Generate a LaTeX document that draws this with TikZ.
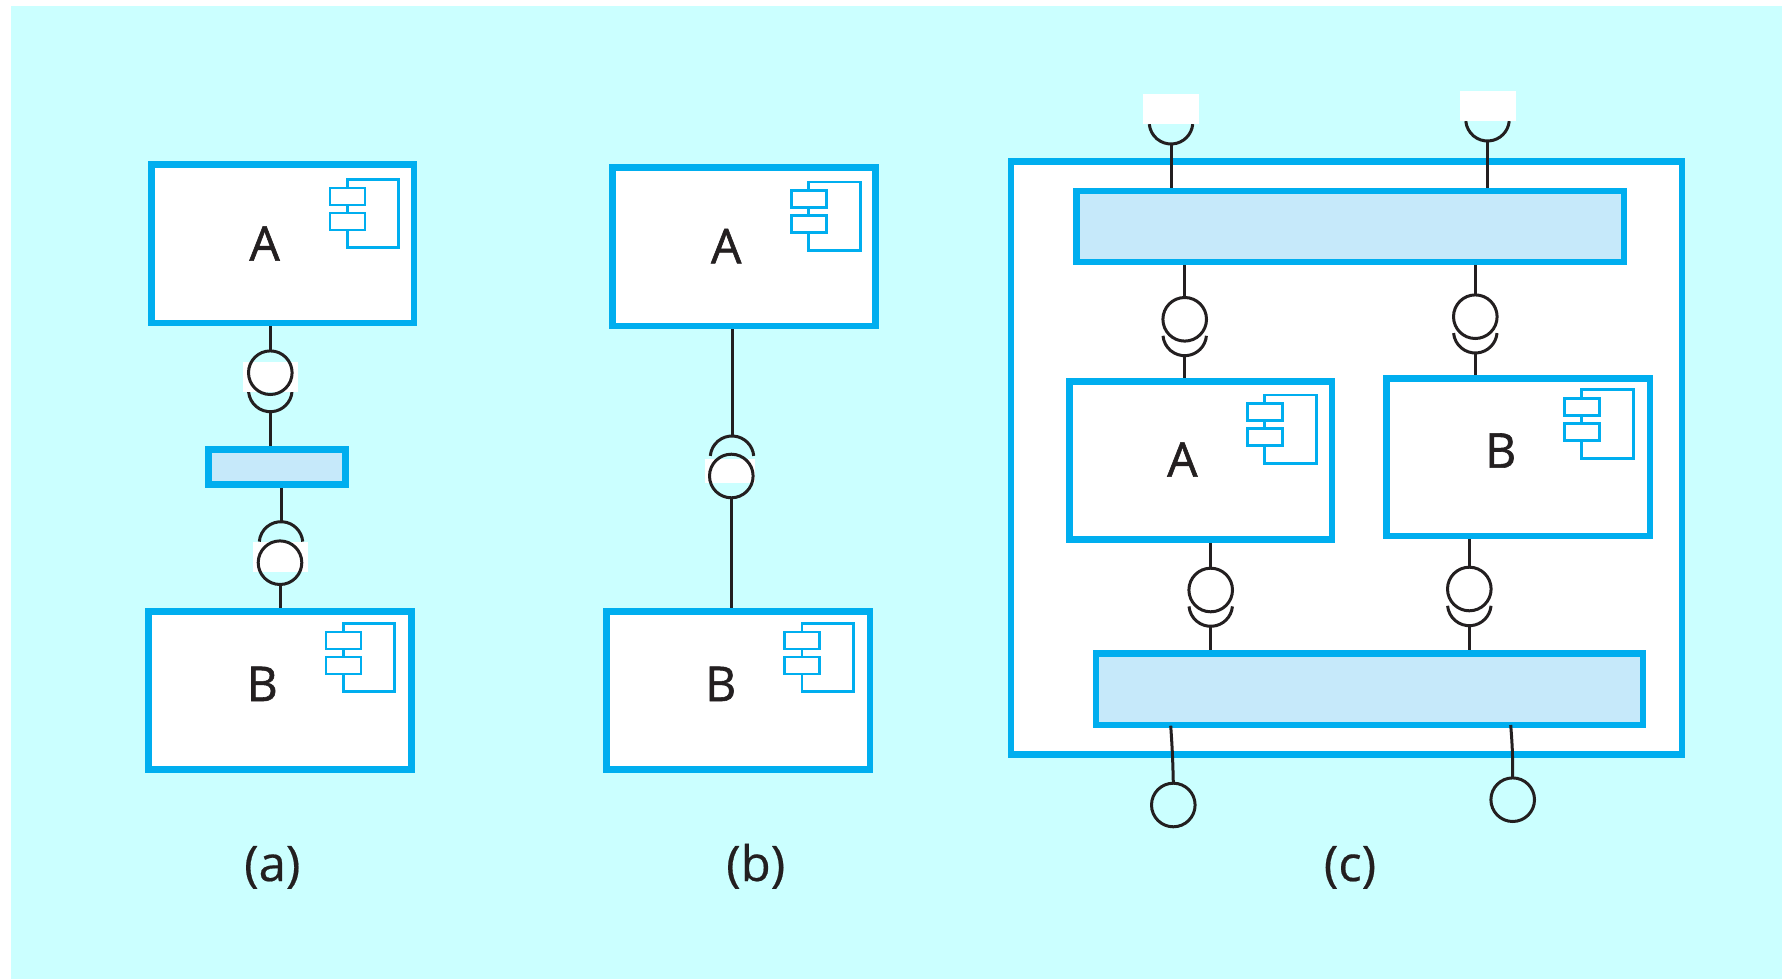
\documentclass[tikz,border=0pt]{standalone}
\usepackage{fontspec}
\setmainfont{Open Sans}
\definecolor{bgc}{HTML}{CBFFFF}
\definecolor{edgec}{HTML}{00AEEF}
\definecolor{barc}{HTML}{C6E9FA}
\definecolor{inkc}{HTML}{231F20}
\tikzset{
  conn/.style={draw=inkc,line width=3pt},
  compbox/.style={draw=edgec,fill=white,line width=6.5pt,inner sep=0pt},
  barbox/.style={draw=edgec,fill=barc,line width=6.5pt,inner sep=0pt},
  iconmain/.style={draw=edgec,line width=2.8pt,inner sep=0pt,outer sep=0pt,anchor=north west,minimum width=51.4pt,minimum height=68.4pt},
  iconpart/.style={draw=edgec,fill=white,line width=2.8pt,inner sep=0pt,outer sep=0pt,anchor=north west,minimum width=35pt,minimum height=17pt},
  ball/.style={conn,circle,inner sep=0pt,minimum size=43.6pt,outer sep=0pt},
  patch/.style={fill=white,inner sep=0pt,outer sep=0pt},
  letter/.style={inner sep=0pt,anchor=base,text=inkc,font=\fontsize{48}{48}\selectfont\addfontfeature{FakeBold=1.2}},
  caption/.style={inner sep=0pt,anchor=base,text=inkc,font=\fontsize{49}{49}\selectfont\addfontfeature{FakeBold=0.4}}
}
% #1 name, #2 left, #3 top, #4 right, #5 bottom (outer edges), #6 style
\newcommand{\cbox}[6]{%
  \pgfmathsetmacro{\cw}{#4-#2-6.5}\pgfmathsetmacro{\ch}{#5-#3-6.5}%
  \node[#6,minimum width=\cw pt,minimum height=\ch pt] (#1) at ({(#2+#4)/2},{(#3+#5)/2}) {};}
% #1 name, #2 left, #3 top of the main rectangle
\newcommand{\cicon}[3]{%
  \node[iconmain] (#1m) at (#2,#3) {};
  \node[iconpart] (#1p) at ({#2-17.3},{#3+8.7}) {};
  \node[iconpart] (#1q) at ({#2-17.3},{#3+33.7}) {};}
% socket opening upward: #1 name of lowest point, #2 x, #3 y of lowest point
\newcommand{\sockup}[3]{%
  \coordinate (#1) at (#2,#3);
  \draw[conn] ($(#1)+(0,-21.8)+(185:21.8pt)$) arc[start angle=185,end angle=355,radius=21.8pt];}
% socket opening downward: #1 name of highest point
\newcommand{\sockdown}[3]{%
  \coordinate (#1) at (#2,#3);
  \draw[conn] ($(#1)+(0,21.8)+(175:21.8pt)$) arc[start angle=175,end angle=5,radius=21.8pt];}
\usetikzlibrary{calc}
\begin{document}
\begin{tikzpicture}[x=1pt,y=-1pt]
\useasboundingbox (0,0) rectangle (1782,979);
\fill[white] (0,0) rectangle (1782,979);
\fill[bgc] (11,6) rectangle (1782,979);

% ---------- (a)
\cbox{aA}{148}{161.3}{417}{326}{compbox}
\cicon{aAi}{347.3}{179.3}
\node[letter] (aAt) at (264.6,260.7) {A};
\cbox{aM}{205}{446}{348.7}{487.7}{barbox}
\cbox{aB}{145}{608}{414.7}{772.7}{compbox}
\cicon{aBi}{343.3}{623.3}
\node[letter] (aBt) at (262.3,701) {B};
\sockup{as1}{270.3}{411.7}
\node[patch,minimum width=54.7pt,minimum height=29.7pt] (ap1) at (270.7,376.8) {};
\node[ball] (ac1) at (270.3,372.7) {};
\draw[conn] (ac1.north) -- (ac1.north |- aA.south);
\draw[conn] (as1) -- (as1 |- aM.north);
\sockdown{as2}{281}{521.7}
\node[patch,minimum width=54.7pt,minimum height=29.4pt] (ap2) at (280.7,557) {};
\node[ball] (ac2) at (280,562.7) {};
\draw[conn] (as2) -- (as2 |- aM.south);
\draw[conn] (ac2.south) -- (ac2.south |- aB.north);
\node[caption] (capa) at (272.3,881) {(a)};

% ---------- (b)
\cbox{bA}{609.3}{164.3}{878.7}{329}{compbox}
\cicon{bAi}{808.7}{182}
\node[letter] (bAt) at (726.2,263.3) {A};
\cbox{bB}{603.3}{608}{873}{772.7}{compbox}
\cicon{bBi}{802}{623.3}
\node[letter] (bBt) at (720.7,701) {B};
\sockdown{bs}{732}{436}
\node[patch,minimum width=50pt,minimum height=23.4pt] (bp) at (730,471) {};
\node[ball] (bc) at (731.3,476) {};
\draw[conn] (bs) -- (bs |- bA.south);
\draw[conn] (bc.south) -- (bc.south |- bB.north);
\node[caption] (capb) at (755.7,881) {(b)};

% ---------- (c)
\cbox{cO}{1007.7}{158}{1685}{757.7}{compbox}
\cbox{cT}{1073}{187.7}{1627.3}{265.3}{barbox}
\cbox{cL}{1092.5}{650}{1646}{728}{barbox}
\cbox{cA}{1066}{378}{1335}{542.7}{compbox}
\cicon{cAi}{1264.7}{395}
\node[letter] (cAt) at (1182.4,476.7) {A};
\cbox{cB}{1383.3}{375}{1653}{539.3}{compbox}
\cicon{cBi}{1581.7}{389.7}
\node[letter] (cBt) at (1500.7,467.7) {B};

% outer required sockets
\sockup{cs1}{1171}{144}
\node[patch,minimum width=55.7pt,minimum height=30pt] (cp1) at (1171.2,109.3) {};
\draw[conn] (cs1) -- (cs1 |- cT.north);
\sockup{cs2}{1487.5}{141}
\node[patch,minimum width=55.7pt,minimum height=29.7pt] (cp2) at (1488.2,106.2) {};
\draw[conn] (cs2) -- (cs2 |- cT.north);

% bar to components
\node[ball] (cc1) at (1184.7,319.3) {};
\draw[conn] (cc1.north) -- (cc1.north |- cT.south);
\sockup{cs3}{1184.7}{355.7}
\draw[conn] (cs3) -- (cs3 |- cA.north);
\node[ball] (cc2) at (1475.3,316.7) {};
\draw[conn] (cc2.north) -- (cc2.north |- cT.south);
\sockup{cs4}{1475.3}{353}
\draw[conn] (cs4) -- (cs4 |- cB.north);

% components to lower bar
\node[ball] (cc3) at (1210.7,590) {};
\draw[conn] (cc3.north) -- (cc3.north |- cA.south);
\sockup{cs5}{1210.7}{626.3}
\draw[conn] (cs5) -- (cs5 |- cL.north);
\node[ball] (cc4) at (1469.3,589) {};
\draw[conn] (cc4.north) -- (cc4.north |- cB.south);
\sockup{cs6}{1469.3}{625.7}
\draw[conn] (cs6) -- (cs6 |- cL.north);

% provided interfaces
\node[ball] (cc5) at (1173.3,805) {};
\coordinate (ce5) at (1170.7,725.7);
\draw[conn] (ce5) .. controls (1172,745) and (1172.7,755) .. (cc5.north);
\node[ball] (cc6) at (1512.7,799.7) {};
\coordinate (ce6) at (1510.7,725);
\draw[conn] (ce6) .. controls (1512,742) and (1512.7,750) .. (cc6.north);
\node[caption] (capc) at (1350,881) {(c)};
\end{tikzpicture}
\end{document}
